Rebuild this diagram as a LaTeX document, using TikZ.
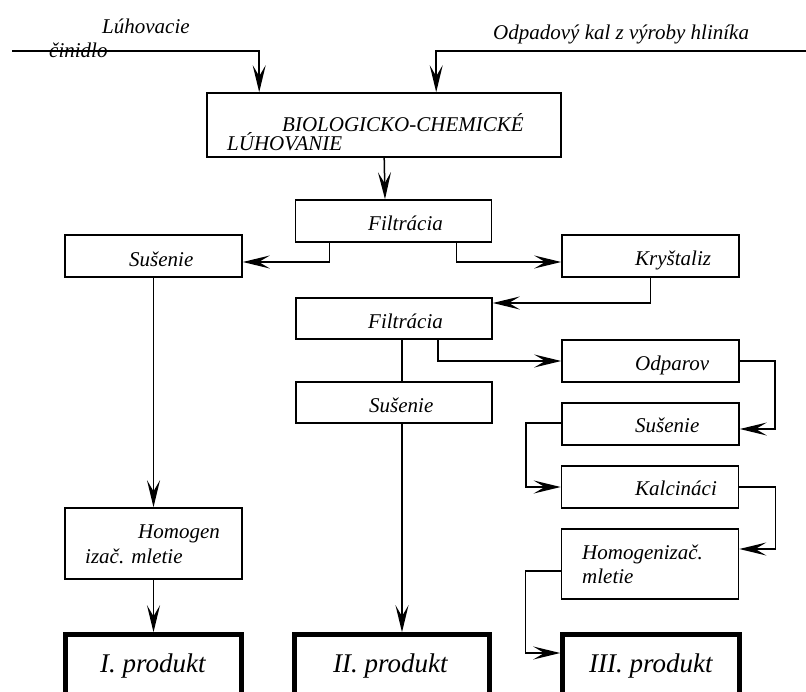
\documentclass[tikz,border=0pt]{standalone}
\usepackage{fontspec}
\setmainfont{Liberation Serif}[ItalicFont={Liberation Serif Italic}]
\usetikzlibrary{arrows.meta}
\begin{document}
\begin{tikzpicture}[x=1pt,y=-1pt,
  box/.style={draw, line width=1.6pt, rectangle, inner sep=0pt, minimum width=177pt, minimum height=42pt},
  wbox/.style={box, minimum width=196pt},
  prod/.style={draw, line width=4.5pt, rectangle, inner sep=0pt, minimum height=80pt},
  txt/.style={anchor=base west, inner sep=0pt, font=\fontsize{21}{24}\selectfont\itshape},
  ptxt/.style={anchor=base west, inner sep=0pt, font=\fontsize{27}{32}\selectfont\itshape},
  arr/.style={line width=1.5pt, -{Stealth[length=27pt,width=13pt,inset=11pt]}},
  ln/.style={line width=1.5pt}]
\useasboundingbox (0,0) rectangle (806,691);
\clip (0,0) rectangle (806,691);

% boxes
\node[box, minimum width=354pt, minimum height=64pt] (bio) at (384,125) {};
\node[wbox] (filt1) at (393.5,221) {};
\node[box] (sus1) at (153.5,256) {};
\node[box] (kryst) at (650.5,256) {};
\node[wbox, minimum height=41pt] (filt2) at (394,318.5) {};
\node[box] (odp) at (650.5,361) {};
\node[wbox, minimum height=41pt] (sus2) at (394,402.5) {};
\node[box] (sus3) at (650.5,424) {};
\node[box] (kalc) at (650,487) {};
\node[box, minimum height=71pt] (hom1) at (153.5,543.5) {};
\node[box, minimum height=70pt] (hom2) at (650,564) {};
\node[prod, minimum width=176pt] (p1) at (153.5,674.5) {};
\node[prod, minimum width=195pt] (p2) at (392,674.5) {};
\node[prod, minimum width=177pt] (p3) at (651,674.5) {};

% texts
\node[txt] (t1) at (102,33) {Lúhovacie};
\node[txt] (t2) at (49,57) {činidlo};
\node[txt] (t3) at (493,39) {Odpadový kal z výroby hliníka};
\node[txt] (t4) at (282,131) {BIOLOGICKO-CHEMICKÉ};
\node[txt] (t5) at (227,150) {LÚHOVANIE};
\node[txt] (t6) at (368,230) {Filtrácia};
\node[txt] (t7) at (129,266) {Sušenie};
\node[txt] (t8) at (635,265) {Kryštaliz};
\node[txt] (t9) at (368,328) {Filtrácia};
\node[txt] (t10) at (635,370) {Odparov};
\node[txt] (t11) at (369,412) {Sušenie};
\node[txt] (t12) at (635,432) {Sušenie};
\node[txt] (t13) at (635,495) {Kalcináci};
\node[txt] (t14) at (138,538) {Homogen};
\node[txt] (t15) at (85,563) {izač. mletie};
\node[txt] (t16) at (582,559) {Homogenizač.};
\node[txt] (t17) at (582,583) {mletie};
\node[ptxt] (t18) at (100,672) {I. produkt};
\node[ptxt] (t19) at (333,672) {II. produkt};
\node[ptxt] (t20) at (589,672) {III. produkt};

% inputs
\coordinate (inL) at (12,51);
\coordinate (inR) at (806,51);
\draw[arr] (inL) -| ([xshift=53pt]bio.north west);
\draw[arr] (inR) -| ([xshift=230pt]bio.north west);

% connectors
\draw[arr] ([xshift=178pt]bio.south west) -- ([xshift=-8.5pt]filt1.north);
\draw[arr] ([xshift=35pt]filt1.south west) |- ([yshift=-6pt]sus1.east);
\draw[arr] ([xshift=-36pt]filt1.south east) |- ([yshift=-6pt]kryst.west);
\draw[arr] (kryst.south) |- ([yshift=15.5pt]filt2.east);
\draw[arr] ([xshift=-55pt]filt2.south east) |- (odp.west);
\draw[ln] ([xshift=8pt]filt2.south) -- ([xshift=8pt]sus2.north);
\draw[arr] ([xshift=8pt]sus2.south) -- ([xshift=10pt]p2.north);
\draw[arr] (odp.east) -- ++(35,0) |- ([yshift=-5pt]sus3.east);
\draw[arr] ([yshift=1pt]sus3.west) -- ++(-35,0) |- (kalc.west);
\draw[arr] (kalc.east) -- ++(36,0) |- ([yshift=15pt]hom2.east);
\draw[arr] ([yshift=-7pt]hom2.west) -- ++(-35,0) |- ([yshift=21.5pt]p3.west);
\draw[arr] (sus1.south) -- (hom1.north);
\draw[arr] (hom1.south) -- (p1.north);
\end{tikzpicture}
\end{document}
